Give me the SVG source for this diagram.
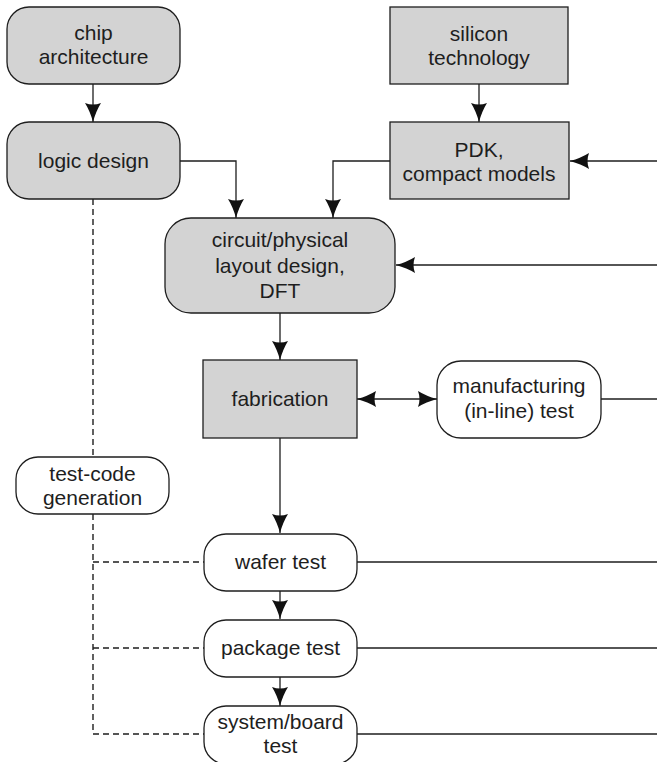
<svg xmlns="http://www.w3.org/2000/svg" width="657" height="762" viewBox="0 0 657 762">
<defs>
<style>
.g{fill:#d3d3d3;stroke:#1e1e1e;stroke-width:1.3}
.w{fill:#ffffff;stroke:#1e1e1e;stroke-width:1.3}
.t{font-family:"Liberation Sans",Arial,sans-serif;font-size:21px;fill:#1e1e1e;text-anchor:middle}
.c{fill:none;stroke:#1e1e1e;stroke-width:1.3}
.d{fill:none;stroke:#1e1e1e;stroke-width:1.4;stroke-dasharray:6,4}
</style>
<marker id="ah" viewBox="0 0 19 16" refX="19" refY="8" markerWidth="19" markerHeight="16" markerUnits="userSpaceOnUse" orient="auto-start-reverse">
<path d="M0,0 Q8,5 19,8 Q8,11 0,16 Q3,8 0,0 Z" fill="#111"/>
</marker>
</defs>
<rect width="657" height="762" fill="#ffffff"/>
<g id="connectors">
<path class="c" d="M93,84 V122" marker-end="url(#ah)"/>
<path class="c" d="M479,84 V122" marker-end="url(#ah)"/>
<path class="c" d="M180,161 H236 V218" marker-end="url(#ah)"/>
<path class="c" d="M390,161 H333 V218" marker-end="url(#ah)"/>
<path class="c" d="M657,161 H570" marker-end="url(#ah)"/>
<path class="c" d="M657,265 H396" marker-end="url(#ah)"/>
<path class="c" d="M280,313 V360" marker-end="url(#ah)"/>
<path class="c" d="M357,399 H437" marker-start="url(#ah)" marker-end="url(#ah)"/>
<path class="c" d="M601,399 H657"/>
<path class="c" d="M280,438 V533" marker-end="url(#ah)"/>
<path class="c" d="M280,591 V619" marker-end="url(#ah)"/>
<path class="c" d="M280,677 V706" marker-end="url(#ah)"/>
<path class="c" d="M357,562 H657"/>
<path class="c" d="M357,648 H657"/>
<path class="c" d="M357,734 H657"/>
<path class="d" d="M93,199 V457"/>
<path class="d" d="M93,514 V734 H204"/>
<path class="d" d="M93,562 H204"/>
<path class="d" d="M93,648 H204"/>
</g>
<g id="chip-architecture">
<rect class="g" x="7" y="7" width="173" height="77" rx="22"/>
<text class="t" x="93.5" y="40">chip</text>
<text class="t" x="93.5" y="64">architecture</text>
</g>
<g id="silicon-technology">
<rect class="g" x="390" y="7" width="178" height="77"/>
<text class="t" x="479" y="41">silicon</text>
<text class="t" x="479" y="65">technology</text>
</g>
<g id="logic-design">
<rect class="g" x="7" y="122" width="173" height="77" rx="22"/>
<text class="t" x="93.5" y="168">logic design</text>
</g>
<g id="pdk">
<rect class="g" x="390" y="122" width="179" height="77"/>
<text class="t" x="479" y="157">PDK,</text>
<text class="t" x="479" y="181">compact models</text>
</g>
<g id="circuit-design">
<rect class="g" x="165" y="218" width="230" height="95" rx="26"/>
<text class="t" x="280" y="247">circuit/physical</text>
<text class="t" x="280" y="273">layout design,</text>
<text class="t" x="280" y="298">DFT</text>
</g>
<g id="fabrication">
<rect class="g" x="203" y="360" width="154" height="78"/>
<text class="t" x="280" y="406">fabrication</text>
</g>
<g id="manufacturing-test">
<rect class="w" x="437" y="361" width="164" height="77" rx="24"/>
<text class="t" x="519" y="393">manufacturing</text>
<text class="t" x="519" y="418">(in-line) test</text>
</g>
<g id="test-code-generation">
<rect class="w" x="16" y="457" width="153" height="57" rx="22"/>
<text class="t" x="92.5" y="481">test-code</text>
<text class="t" x="92.5" y="505">generation</text>
</g>
<g id="wafer-test">
<rect class="w" x="204" y="534" width="153" height="57" rx="22"/>
<text class="t" x="280.5" y="569">wafer test</text>
</g>
<g id="package-test">
<rect class="w" x="204" y="620" width="153" height="57" rx="22"/>
<text class="t" x="280.5" y="655">package test</text>
</g>
<g id="system-board-test">
<rect class="w" x="204" y="706" width="153" height="58" rx="22"/>
<text class="t" x="280.5" y="729">system/board</text>
<text class="t" x="280.5" y="753">test</text>
</g>
</svg>
